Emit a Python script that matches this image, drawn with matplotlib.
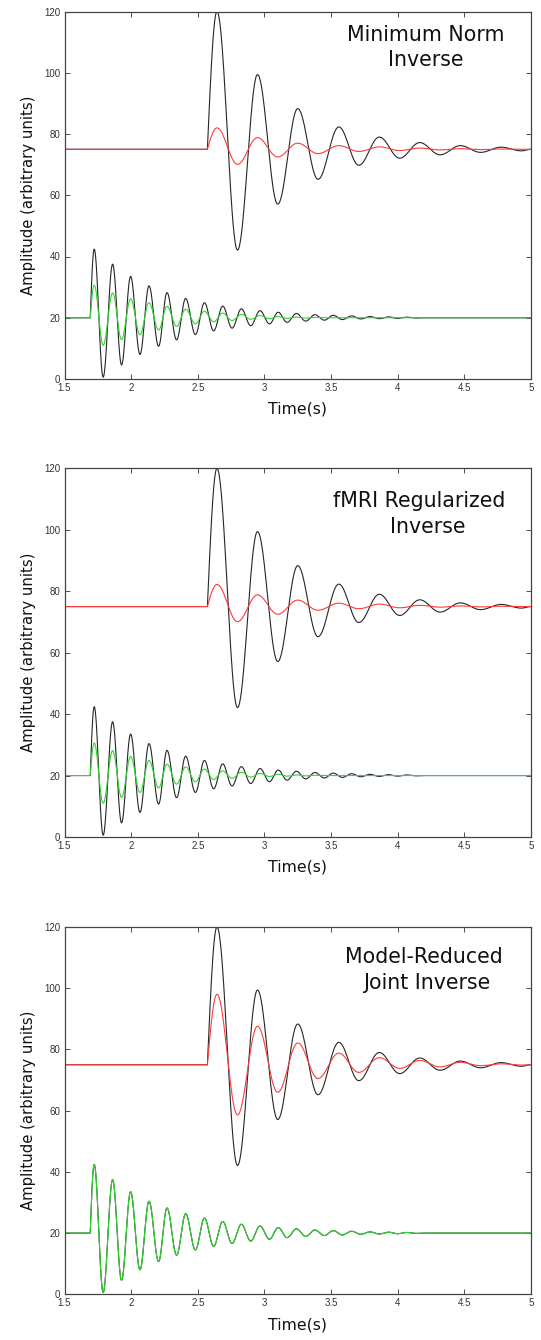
import numpy as np
import matplotlib
matplotlib.use("Agg")
import matplotlib.pyplot as plt

# ---------------- data ----------------
# Upper (slow) source: onset, then alternating peak / trough extrema
upper_onset = 2.572
upper_base = 75.0
upper_times = [2.644, 2.798, 2.948, 3.100, 3.250, 3.402, 3.558, 3.708,
               3.862, 4.015, 4.165, 4.318, 4.470, 4.622, 4.775, 4.928]
upper_true = [120.0, 42.1, 99.4, 57.1, 88.3, 65.2, 82.3, 69.8,
              79.0, 72.1, 77.2, 73.2, 76.2, 74.0, 75.7, 74.5]
upper_est_minnorm = [82.0, 70.1, 78.8, 72.5, 77.0, 73.6, 76.2, 74.3,
                     75.8, 74.6, 75.4, 74.8, 75.2, 74.9, 75.1, 75.0]
upper_est_fmri = [82.2, 70.1, 78.8, 72.5, 77.1, 73.8, 76.1, 74.3,
                  75.8, 74.6, 75.4, 74.8, 75.2, 74.9, 75.1, 75.0]
upper_est_joint = [98.0, 58.6, 87.6, 66.0, 82.1, 70.5, 78.8, 72.5,
                   77.3, 73.8, 76.4, 74.3, 75.8, 74.7, 75.3, 74.9]

# Lower (fast) source
lower_onset = 1.693
lower_base = 20.0
lower_times = [1.723, 1.790, 1.861, 1.928, 1.996, 2.066, 2.134, 2.206,
               2.269, 2.341, 2.409, 2.482, 2.550, 2.619, 2.687, 2.757,
               2.827, 2.897, 2.967, 3.038, 3.103, 3.170, 3.240, 3.310,
               3.378, 3.450, 3.516, 3.585, 3.654, 3.723, 3.792, 3.861,
               3.930, 3.999, 4.068, 4.137]
lower_true = [42.4, 0.6, 37.5, 4.6, 33.5, 8.0, 30.4, 10.7,
              28.2, 12.8, 26.3, 14.5, 24.9, 15.7, 23.8, 16.6,
              22.9, 17.4, 22.3, 18.0, 21.8, 18.5, 21.4, 18.9,
              21.0, 19.2, 20.8, 19.4, 20.6, 19.6, 20.4, 19.7,
              20.3, 19.8, 20.2, 19.9]
lower_est_minnorm = [30.6, 11.0, 28.1, 12.9, 26.2, 14.5, 24.9, 16.0,
                     23.7, 17.2, 22.8, 18.0, 22.1, 18.7, 21.5, 19.1,
                     21.1, 19.5, 20.7, 19.7, 20.4, 19.8, 20.2, 19.9,
                     20.1, 20.0, 20.0, 20.0, 20.0, 20.0, 20.0, 20.0,
                     20.0, 20.0, 20.0, 20.0]
lower_est_fmri = list(lower_est_minnorm)
lower_est_joint = list(lower_true)

panel_titles = [["Minimum Norm", "Inverse"],
                ["fMRI Regularized", "Inverse"],
                ["Model-Reduced", "Joint Inverse"]]
upper_estimates = [upper_est_minnorm, upper_est_fmri, upper_est_joint]
lower_estimates = [lower_est_minnorm, lower_est_fmri, lower_est_joint]

x_ticks = [1.5, 2, 2.5, 3, 3.5, 4, 4.5, 5]
x_ticklabels = ["1.5", "2", "2.5", "3", "3.5", "4", "4.5", "5"]
y_ticks = [0, 20, 40, 60, 80, 100, 120]
x_label = "Time(s)"
y_label = "Amplitude (arbitrary units)"


# ---------------- drawing helper: smooth curve through extrema ----------------
def trace(onset, base, times, values, t_start=1.5, t_end=5.0, n=40):
    ts = [np.array([t_start, onset])]
    vs = [np.array([base, base])]
    # rise from baseline to first extremum (quarter-sine)
    s = np.linspace(0, 1, n)
    ts.append(onset + (times[0] - onset) * s)
    vs.append(base + (values[0] - base) * np.sin(np.pi / 2 * s))
    # half-cosine segments between consecutive extrema
    for i in range(len(times) - 1):
        ta, tb = times[i], times[i + 1]
        va, vb = values[i], values[i + 1]
        ts.append(ta + (tb - ta) * s)
        vs.append(va + (vb - va) * (1 - np.cos(np.pi * s)) / 2)
    # settle back to baseline
    tl = times[-1]
    dt = (times[-1] - times[-2])
    te = min(tl + dt, t_end)
    ts.append(tl + (te - tl) * s)
    vs.append(values[-1] + (base - values[-1]) * (1 - np.cos(np.pi * s)) / 2)
    ts.append(np.array([te, t_end]))
    vs.append(np.array([base, base]))
    t = np.concatenate(ts)
    v = np.concatenate(vs)
    m = t <= t_end
    return t[m], v[m]


W, H = 541, 1340
fig = plt.figure(figsize=(W / 100, H / 100), dpi=100)

left = 64.5 / W
width = (531.0 - 64.5) / W
panel_px = [(11.5, 379.0), (468.3, 837.0), (927.0, 1294.3)]
title_pos = [[(0.774, 0.9197), (0.7735, 0.8525)],
             [(0.760, 0.894), (0.7777, 0.825)],
             [(0.7696, 0.901), (0.7768, 0.830)]]

black = "#262626"
red = "#ff3b3b"
green = "#2ed62e"

for k in range(3):
    top_px, bot_px = panel_px[k]
    ax = fig.add_axes([left, 1 - bot_px / H, width, (bot_px - top_px) / H])

    t, v = trace(upper_onset, upper_base, upper_times, upper_true)
    ax.plot(t, v, color=black, lw=0.8)
    t, v = trace(lower_onset, lower_base, lower_times, lower_true)
    ax.plot(t, v, color=black, lw=0.8)
    t, v = trace(upper_onset, upper_base, upper_times, upper_estimates[k])
    ax.plot(t, v, color=red, lw=0.8)
    t, v = trace(lower_onset, lower_base, lower_times, lower_estimates[k])
    ax.plot(t, v, color=green, lw=0.8)

    ax.set_xlim(1.5, 5)
    ax.set_ylim(0, 120)
    ax.set_xticks(x_ticks)
    ax.set_xticklabels(x_ticklabels)
    ax.set_yticks(y_ticks)
    ax.tick_params(direction="in", length=3.5, width=0.6, top=True, right=True,
                   labelsize=7, colors="#333333", pad=3)
    for lab in ax.get_xticklabels() + ax.get_yticklabels():
        lab.set_family("Liberation Sans")
    for sp in ax.spines.values():
        sp.set_color("#444444")
        sp.set_linewidth(0.9)

    ax.set_xlabel(x_label, fontsize=11.3, color="#111111")
    ax.xaxis.set_label_coords(0.5, -0.062)
    ax.set_ylabel(y_label, fontsize=10.7, color="#111111")
    ax.yaxis.set_label_coords(-0.062, 0.5)

    for line, (xp, yp) in zip(panel_titles[k], title_pos[k]):
        ax.text(xp, yp, line, transform=ax.transAxes, ha="center", va="baseline",
                fontsize=14.8, color="#111111", fontweight="medium")

fig.savefig("out.png", dpi=100)
